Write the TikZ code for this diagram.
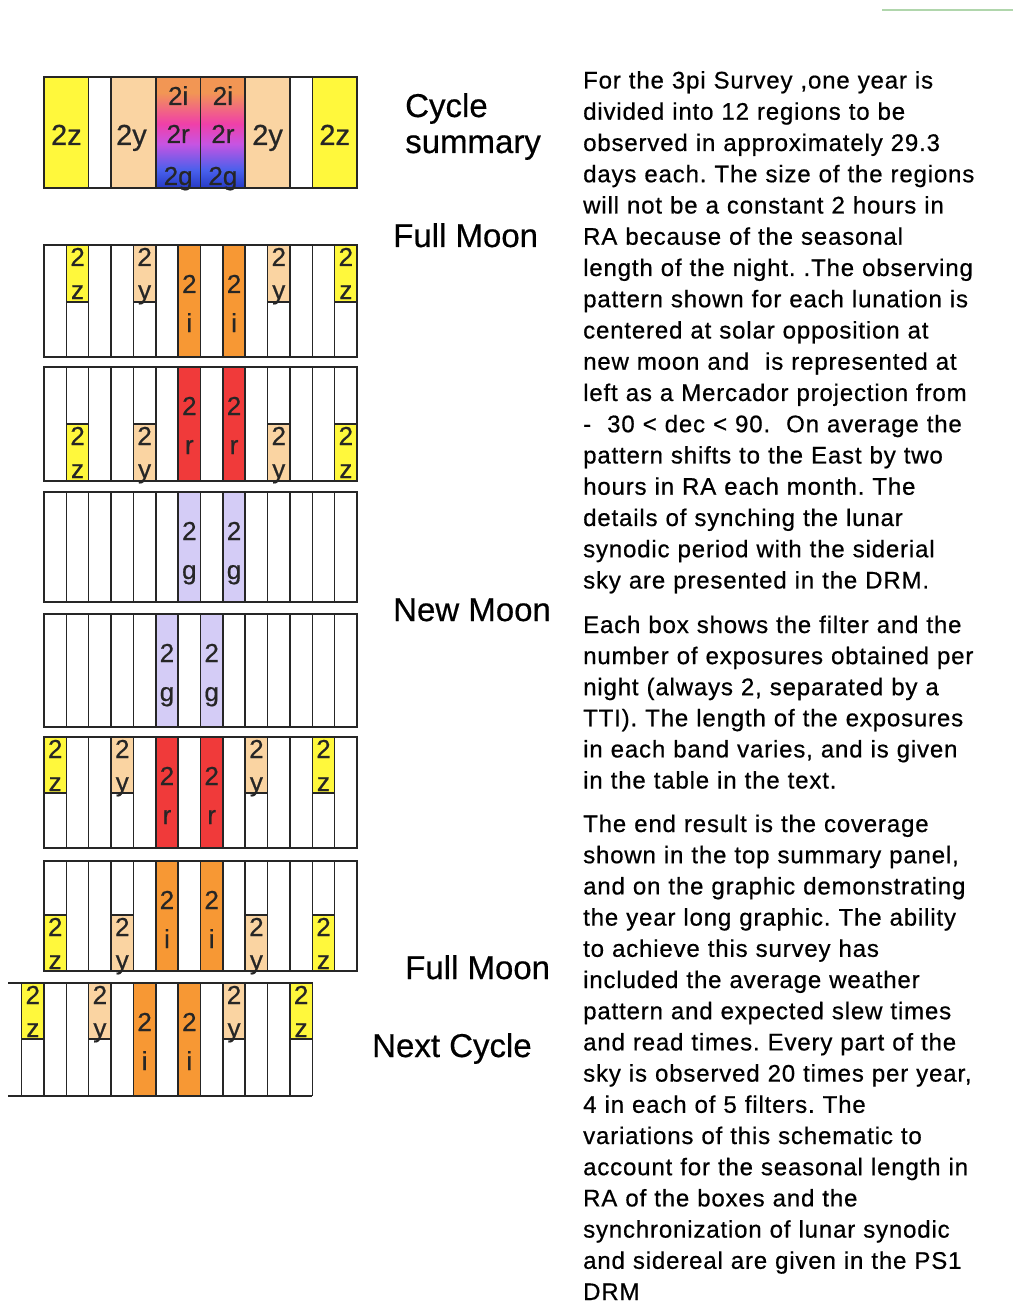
\documentclass[tikz,border=0pt]{standalone}
\usepackage{fontspec}
\setmainfont{Liberation Sans}[FakeBold=0.5]
\newfontfamily\bodyfont[LetterSpace=3.5,FakeBold=0.6]{Liberation Sans}
\newfontfamily\labelfont[FakeBold=0.6]{Liberation Sans}
\usepackage{tikz}
\frenchspacing

\definecolor{zyellow}{RGB}{255,248,60}
\definecolor{ypeach}{RGB}{250,212,162}
\definecolor{iorange}{RGB}{247,152,52}
\definecolor{rred}{RGB}{240,58,58}
\definecolor{glilac}{RGB}{212,204,246}
\definecolor{gorange}{RGB}{242,150,84}
\definecolor{gpink}{RGB}{240,64,168}
\definecolor{gviolet}{RGB}{200,84,226}
\definecolor{gblue}{RGB}{72,96,236}
\definecolor{gdark}{RGB}{38,58,196}
\definecolor{rulegreen}{RGB}{176,214,172}

\pgfdeclareverticalshading{lunagrad}{100bp}{color(0bp)=(gdark); color(25bp)=(gdark); color(33bp)=(gblue); color(45bp)=(gviolet); color(54bp)=(gpink); color(68bp)=(gorange); color(100bp)=(gorange)}

\def\colw{22.36}

% one lunation strip of 14 columns: left x, top y, bottom y
\newcommand{\lunstrip}[3]{%
  \draw[gridline] (#1,#2) rectangle (#1+14*\colw,#3);
  \foreach \k in {1,...,13}
    \draw[gridline] (#1+\k*\colw,#2) -- (#1+\k*\colw,#3);}

% filter box filling a whole column: left x, top, bottom, colour, band
\newcommand{\fullbox}[5]{%
  \filldraw[gridline, fill=#4] (#1,#2) rectangle (#1+\colw,#3);
  \node[bandlbl] at (#1+\colw/2,#2+48) {2};
  \node[bandlbl] at (#1+\colw/2,#2+87) {#5};}

% filter box filling half a column
\newcommand{\halfbox}[5]{%
  \filldraw[gridline, fill=#4] (#1,#2) rectangle (#1+\colw,#3);
  \node[bandlbl] at (#1+\colw/2,#2+21) {2};
  \node[bandlbl] at (#1+\colw/2,#2+54) {#5};}

\begin{document}
\begin{tikzpicture}[x=1pt, y=-1pt,
    gridline/.style={draw=black!85, line width=1.5pt},
    bandlbl/.style={anchor=base, inner sep=0pt, text=black!85, font=\labelfont\fontsize{26}{26}\selectfont},
    sumlbl/.style={anchor=base, inner sep=0pt, text=black!85, font=\labelfont\fontsize{29}{29}\selectfont},
    moonlbl/.style={anchor=base west, inner sep=0pt, font=\fontsize{33}{33}\selectfont},
    bodytext/.style={anchor=base west, inner sep=0pt, text width=430pt, align=left}]

    \useasboundingbox[fill=white] (0,0) rectangle (1013,1305);
    \draw[rulegreen, line width=2pt] (882,10.5) -- (1013,10.5);

    % cycle summary
    \filldraw[gridline, fill=zyellow] (44,77) rectangle (44+2*\colw,188);
    \draw[gridline] (44+2*\colw,77) rectangle (44+3*\colw,188);
    \filldraw[gridline, fill=ypeach] (44+3*\colw,77) rectangle (44+5*\colw,188);
    \shade[shading=lunagrad] (44+5*\colw,77) rectangle (44+9*\colw,188);
    \draw[gridline] (44+5*\colw,77) rectangle (44+7*\colw,188);
    \draw[gridline] (44+7*\colw,77) rectangle (44+9*\colw,188);
    \filldraw[gridline, fill=ypeach] (44+9*\colw,77) rectangle (44+11*\colw,188);
    \draw[gridline] (44+11*\colw,77) rectangle (44+12*\colw,188);
    \filldraw[gridline, fill=zyellow] (44+12*\colw,77) rectangle (44+14*\colw,188);
    \node[sumlbl] (sz1) at (44+1*\colw,145) {2z};
    \node[sumlbl] (sy1) at (44+4*\colw-2,145) {2y};
    \node[sumlbl] (sy2) at (44+10*\colw,145) {2y};
    \node[sumlbl] (sz2) at (44+13*\colw,145) {2z};
    \foreach \c in {6,8} {
      \node[bandlbl] (si\c) at (44+\c*\colw,105) {2i};
      \node[bandlbl] (sr\c) at (44+\c*\colw,143) {2r};
      \node[bandlbl] (sg\c) at (44+\c*\colw,185) {2g};
    }

    % full moon
    \lunstrip{44}{245}{357}
    \halfbox{44+1*\colw}{245}{302}{zyellow}{z}
    \halfbox{44+4*\colw}{245}{302}{ypeach}{y}
    \fullbox{44+6*\colw}{245}{357}{iorange}{i}
    \fullbox{44+8*\colw}{245}{357}{iorange}{i}
    \halfbox{44+10*\colw}{245}{302}{ypeach}{y}
    \halfbox{44+13*\colw}{245}{302}{zyellow}{z}

    \lunstrip{44}{367}{481}
    \halfbox{44+1*\colw}{424}{481}{zyellow}{z}
    \halfbox{44+4*\colw}{424}{481}{ypeach}{y}
    \fullbox{44+6*\colw}{367}{481}{rred}{r}
    \fullbox{44+8*\colw}{367}{481}{rred}{r}
    \halfbox{44+10*\colw}{424}{481}{ypeach}{y}
    \halfbox{44+13*\colw}{424}{481}{zyellow}{z}

    \lunstrip{44}{492}{602}
    \fullbox{44+6*\colw}{492}{602}{glilac}{g}
    \fullbox{44+8*\colw}{492}{602}{glilac}{g}

    % new moon
    \lunstrip{44}{614}{727}
    \fullbox{44+5*\colw}{614}{727}{glilac}{g}
    \fullbox{44+7*\colw}{614}{727}{glilac}{g}

    \lunstrip{44}{737}{848}
    \halfbox{44}{737}{793}{zyellow}{z}
    \halfbox{44+3*\colw}{737}{793}{ypeach}{y}
    \fullbox{44+5*\colw}{737}{848}{rred}{r}
    \fullbox{44+7*\colw}{737}{848}{rred}{r}
    \halfbox{44+9*\colw}{737}{793}{ypeach}{y}
    \halfbox{44+12*\colw}{737}{793}{zyellow}{z}

    \lunstrip{44}{861}{971}
    \halfbox{44}{915}{971}{zyellow}{z}
    \halfbox{44+3*\colw}{915}{971}{ypeach}{y}
    \fullbox{44+5*\colw}{861}{971}{iorange}{i}
    \fullbox{44+7*\colw}{861}{971}{iorange}{i}
    \halfbox{44+9*\colw}{915}{971}{ypeach}{y}
    \halfbox{44+12*\colw}{915}{971}{zyellow}{z}

    % next cycle, cut at the left
    \draw[gridline] (8.3,983) -- (-0.72+14*\colw,983) (8.3,1096) -- (-0.72+14*\colw,1096);
    \foreach \k in {1,...,14}
      \draw[gridline] (-0.72+\k*\colw,983) -- (-0.72+\k*\colw,1096);
    \halfbox{-0.72+1*\colw}{983}{1039}{zyellow}{z}
    \halfbox{-0.72+4*\colw}{983}{1039}{ypeach}{y}
    \fullbox{-0.72+6*\colw}{983}{1096}{iorange}{i}
    \fullbox{-0.72+8*\colw}{983}{1096}{iorange}{i}
    \halfbox{-0.72+10*\colw}{983}{1039}{ypeach}{y}
    \halfbox{-0.72+13*\colw}{983}{1039}{zyellow}{z}

    % phase labels
    \node[moonlbl] (cycle) at (405,117) {Cycle};
    \node[moonlbl] (summary) at (405,153) {summary};
    \node[moonlbl] (full1) at (393,247) {Full Moon};
    \node[moonlbl] (new) at (393,621) {New Moon};
    \node[moonlbl] (full2) at (405,979) {Full Moon};
    \node[moonlbl] (next) at (372,1057) {Next Cycle};

    % explanation
    \node[bodytext, font=\bodyfont\fontsize{24}{31.25}\selectfont] (para1) at (583,88.5) {%
      For the 3pi Survey ,one year is\\
      divided into 12 regions to be\\
      observed in approximately 29.3\\
      days each. The size of the regions\\
      will not be a constant 2 hours in\\
      RA because of the seasonal\\
      length of the night. .The observing\\
      pattern shown for each lunation is\\
      centered at solar opposition at\\
      new moon and \ is represented at\\
      left as a Mercador projection from\\
      - \ 30 < dec < 90. \ On average the\\
      pattern shifts to the East by two\\
      hours in RA each month. The\\
      details of synching the lunar\\
      synodic period with the siderial\\
      sky are presented in the DRM.};
    \node[bodytext, font=\bodyfont\fontsize{24}{31.1}\selectfont] (para2) at (583,633) {%
      Each box shows the filter and the\\
      number of exposures obtained per\\
      night (always 2, separated by a\\
      TTI). The length of the exposures\\
      in each band varies, and is given\\
      in the table in the text.};
    \node[bodytext, font=\bodyfont\fontsize{24}{31.2}\selectfont] (para3) at (583,832) {%
      The end result is the coverage\\
      shown in the top summary panel,\\
      and on the graphic demonstrating\\
      the year long graphic. The ability\\
      to achieve this survey has\\
      included the average weather\\
      pattern and expected slew times\\
      and read times. Every part of the\\
      sky is observed 20 times per year,\\
      4 in each of 5 filters. The\\
      variations of this schematic to\\
      account for the seasonal length in\\
      RA of the boxes and the\\
      synchronization of lunar synodic\\
      and sidereal are given in the PS1\\
      DRM};
\end{tikzpicture}
\end{document}
